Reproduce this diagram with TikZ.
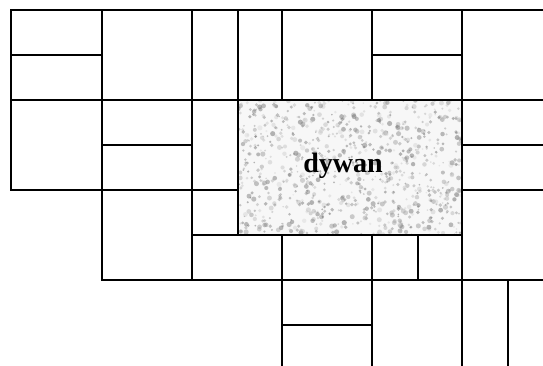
\documentclass[tikz,border=0pt]{standalone}
\usepackage{fontspec}
\setmainfont{Liberation Serif}
\usepackage{tikz}
\usetikzlibrary{positioning}

\tikzset{
  joint/.style={line width=2pt, line cap=rect},
  carpetlabel/.style={font=\fontsize{28}{30}\selectfont\bfseries, inner sep=0pt, anchor=base}
}

\begin{document}
\begin{tikzpicture}[x=1pt, y=-1pt]
    \useasboundingbox (0,0) rectangle (543,365);
    \clip (0,0) rectangle (543,365);

    % carpet
    \coordinate (c1) at (238,100);
    \coordinate (c2) at (462,235);
    \fill[black!3] (c1) rectangle (c2);
    \begin{scope}
      \clip (c1) rectangle (c2);
      \pgfmathsetseed{11}
      \foreach \i in {1,...,900} {
        \pgfmathsetmacro\px{238+224*rnd}
        \pgfmathsetmacro\py{100+135*rnd}
        \pgfmathsetmacro\g{15+50*rnd}
        \pgfmathsetmacro\r{0.8+1.8*rnd}
        \fill[black!\g, opacity=0.45] (\px,\py) circle (\r pt);
      }
    \end{scope}

    % horizontal joints
    \draw[joint] (11,10) -- (543,10);
    \draw[joint] (11,55) -- (102,55);
    \draw[joint] (372,55) -- (462,55);
    \draw[joint] (11,100) -- (543,100);
    \draw[joint] (102,145) -- (192,145);
    \draw[joint] (462,145) -- (543,145);
    \draw[joint] (11,190) -- (238,190);
    \draw[joint] (462,190) -- (543,190);
    \draw[joint] (192,235) -- (462,235);
    \draw[joint] (102,280) -- (543,280);
    \draw[joint] (282,325) -- (372,325);

    % vertical joints
    \draw[joint] (11,10) -- (11,190);
    \draw[joint] (102,10) -- (102,280);
    \draw[joint] (192,10) -- (192,280);
    \draw[joint] (238,10) -- (238,235);
    \draw[joint] (282,10) -- (282,100);
    \draw[joint] (282,235) -- (282,365);
    \draw[joint] (372,10) -- (372,100);
    \draw[joint] (372,235) -- (372,365);
    \draw[joint] (418,235) -- (418,280);
    \draw[joint] (462,10) -- (462,365);
    \draw[joint] (508,280) -- (508,365);

    \node[carpetlabel] (dywan) at (343,172) {dywan};
\end{tikzpicture}
\end{document}
